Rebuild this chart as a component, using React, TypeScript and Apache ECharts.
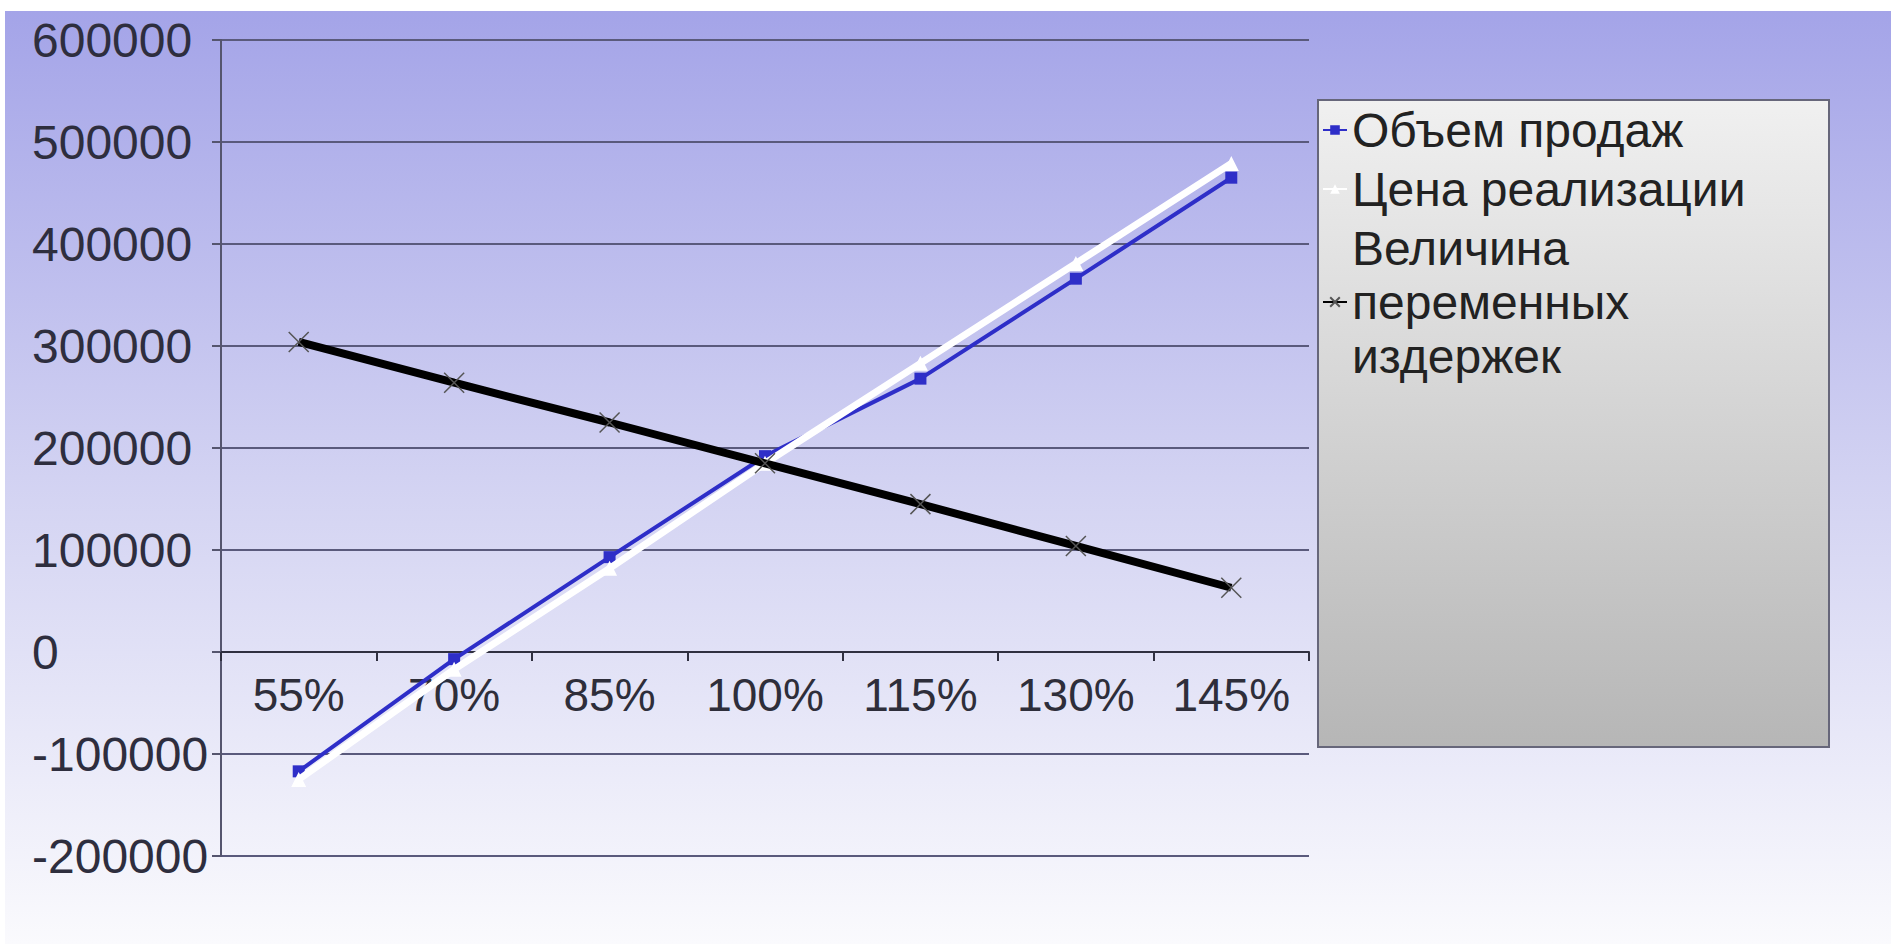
import React, { useEffect, useRef } from "react";
import * as echarts from "echarts";

const categories = ["55%", "70%", "85%", "100%", "115%", "130%", "145%"];
const salesVolume = [-117000, -7000, 93000, 192000, 268000, 366000, 465000];
const salesPrice = [-125000, -17000, 82000, 185000, 283000, 381000, 479000];
const variableCosts = [304000, 264000, 225000, 185000, 145000, 104000, 63000];
const seriesNames = [
  "Объем продаж",
  "Цена реализации",
  "Величина\nпеременных\nиздержек",
];
const Y_MIN = -200000;
const Y_MAX = 600000;
const Y_STEP = 100000;

const FONT = "'Liberation Sans', Arial, sans-serif";
const CROSS = "path://M0,0L10,10M10,0L0,10";

const GRID_LEFT = 221;
const GRID_TOP = 40;
const GRID_BOTTOM = 88;
const GRID_H = 944 - GRID_TOP - GRID_BOTTOM;
// offset of the category axis so that it sits on the zero line
const ZERO_OFFSET = -(GRID_H * (0 - Y_MIN)) / (Y_MAX - Y_MIN);
const Y_LABEL_LEFT = 32;

export default function App() {
  const ref = useRef<HTMLDivElement>(null);
  useEffect(() => {
    document.body.style.margin = "0";
    const chart = echarts.init(ref.current!, null, { renderer: "svg" });
    chart.setOption({
      animation: false,
      textStyle: { fontFamily: FONT },
      graphic: [
        {
          type: "rect",
          z: -10,
          silent: true,
          shape: { x: 5, y: 11, width: 1886, height: 933 },
          style: {
            fill: new echarts.graphic.LinearGradient(0, 0, 0, 1, [
              { offset: 0, color: "#a4a4e8" },
              { offset: 0.5, color: "#d2d2f2" },
              { offset: 1, color: "#fafafd" },
            ]),
          },
        },
        {
          type: "rect",
          z: -5,
          silent: true,
          shape: { x: 1318, y: 100, width: 511, height: 647 },
          style: {
            fill: new echarts.graphic.LinearGradient(0, 0, 0, 1, [
              { offset: 0, color: "#f0f0f0" },
              { offset: 1, color: "#b6b6b6" },
            ]),
            stroke: "#66667a",
            lineWidth: 2,
          },
        },
      ],
      grid: { left: GRID_LEFT, right: 582, top: GRID_TOP, bottom: GRID_BOTTOM, containLabel: false },
      legend: {
        orient: "vertical",
        left: 1322,
        top: 103,
        itemWidth: 24,
        itemHeight: 12,
        itemGap: 5,
        padding: 0,
        selectedMode: false,
        textStyle: { fontSize: 48, color: "#222", lineHeight: 54, fontFamily: FONT },
        data: seriesNames,
      },
      xAxis: {
        type: "category",
        data: categories,
        boundaryGap: true,
        offset: ZERO_OFFSET,
        axisLine: { onZero: false, lineStyle: { color: "#303040", width: 2 } },
        axisTick: { show: true, length: 9, lineStyle: { color: "#303040", width: 2 } },
        axisLabel: { fontSize: 46, color: "#2e2e3a", margin: 20, fontFamily: FONT },
        splitLine: { show: false },
      },
      yAxis: {
        type: "value",
        min: Y_MIN,
        max: Y_MAX,
        interval: Y_STEP,
        axisLine: { show: true, lineStyle: { color: "#55556e", width: 2 } },
        axisTick: { show: true, length: 9, lineStyle: { color: "#55556e", width: 2 } },
        axisLabel: {
          fontSize: 48,
          color: "#2e2e3e",
          align: "left",
          margin: GRID_LEFT - Y_LABEL_LEFT,
          fontFamily: FONT,
          formatter: (v: number) => String(v),
        },
        splitLine: { show: true, lineStyle: { color: "#5a5a7c", width: 2 } },
      },
      series: [
        {
          name: seriesNames[0],
          type: "line",
          data: salesVolume,
          z: 2,
          symbol: "rect",
          symbolSize: 12,
          lineStyle: { color: "#2e2ec8", width: 4 },
          itemStyle: { color: "#2e2ec8" },
        },
        {
          name: seriesNames[1],
          type: "line",
          data: salesPrice,
          z: 3,
          symbol: "triangle",
          symbolSize: 15,
          lineStyle: { color: "#ffffff", width: 7 },
          itemStyle: { color: "#ffffff" },
        },
        {
          name: seriesNames[2],
          type: "line",
          data: variableCosts,
          z: 4,
          symbol: CROSS,
          symbolSize: 20,
          lineStyle: { color: "#000000", width: 8 },
          itemStyle: { color: "none", borderColor: "#555", borderWidth: 1.5 },
        },
      ],
    });
    return () => chart.dispose();
  }, []);
  return (
    <div
      ref={ref}
      style={{ position: "fixed", left: 0, top: 0, width: 1891, height: 944, background: "#ffffff" }}
    />
  );
}
